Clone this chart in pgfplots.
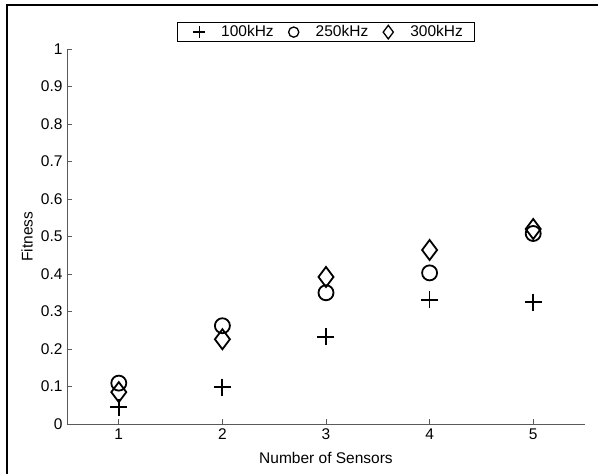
\documentclass[border=0pt]{standalone}
\usepackage{fontspec}
\setmainfont{Liberation Sans}
\usepackage{pgfplots}
\pgfplotsset{compat=1.18}

\definecolor{axgray}{RGB}{90,90,90}

\begin{document}
\begin{tikzpicture}[font=\fontsize{15.5}{18}\selectfont]
  % page frame (left and top edge only, as in the reference)
  \path[use as bounding box] (-67pt,-50pt) rectangle (531pt,424pt);
  \draw[line width=2.5pt] (-60pt,-50pt) -- (-60pt,419pt) -- (531pt,419pt);

  \begin{axis}[
    at={(0pt,0pt)}, anchor=south west,
    scale only axis,
    width=518pt, height=375pt,
    xmin=0.5, xmax=5.5,
    ymin=0, ymax=1,
    xtick={1,2,3,4,5},
    ytick={0,0.1,0.2,0.3,0.4,0.5,0.6,0.7,0.8,0.9,1},
    yticklabels={0,0.1,0.2,0.3,0.4,0.5,0.6,0.7,0.8,0.9,1},
    axis x line*=bottom,
    axis y line*=left,
    axis line style={axgray, line width=0.9pt, -},
    tick style={axgray, line width=0.8pt},
    tick align=inside,
    major tick length=5pt,
    /pgf/number format/assume math mode=true,
    xticklabel style={yshift=-1pt},
    yticklabel style={xshift=-1pt},
    xlabel={Number of Sensors},
    ylabel={Fitness},
    every axis x label/.style={at={(axis description cs:0.5,-0.091)}, anchor=center},
    every axis y label/.style={at={(axis description cs:-0.077,0.5)}, rotate=90, anchor=center},
    legend columns=3,
    legend style={
      at={(axis description cs:0.5,1.019)}, anchor=south,
      draw=black, line width=0.8pt,
      inner xsep=10pt, inner ysep=1pt,
      /tikz/every even column/.append style={column sep=6pt},
    },
    every legend image post/.style={mark options={scale=0.68, line width=1.3pt}},
    legend image code/.code={%
      \path[draw=none] (-12pt,0pt) rectangle (20pt,0pt);
      \draw[#1] plot coordinates {(0pt,0pt)};},
  ]
    \addplot[only marks, mark=+, mark size=8.5pt, line width=1.8pt, black]
      coordinates {(1,0.045) (2,0.098) (3,0.233) (4,0.331) (5,0.325)};
    \addlegendentry{100kHz}
    \addplot[only marks, mark=o, mark size=7.5pt, line width=1.8pt, black]
      coordinates {(1,0.109) (2,0.262) (3,0.350) (4,0.403) (5,0.508)};
    \addlegendentry{250kHz}
    \addplot[only marks, mark=diamond, mark size=10pt, line width=1.8pt, black]
      coordinates {(1,0.085) (2,0.226) (3,0.392) (4,0.464) (5,0.520)};
    \addlegendentry{300kHz}
  \end{axis}
\end{tikzpicture}
\end{document}
